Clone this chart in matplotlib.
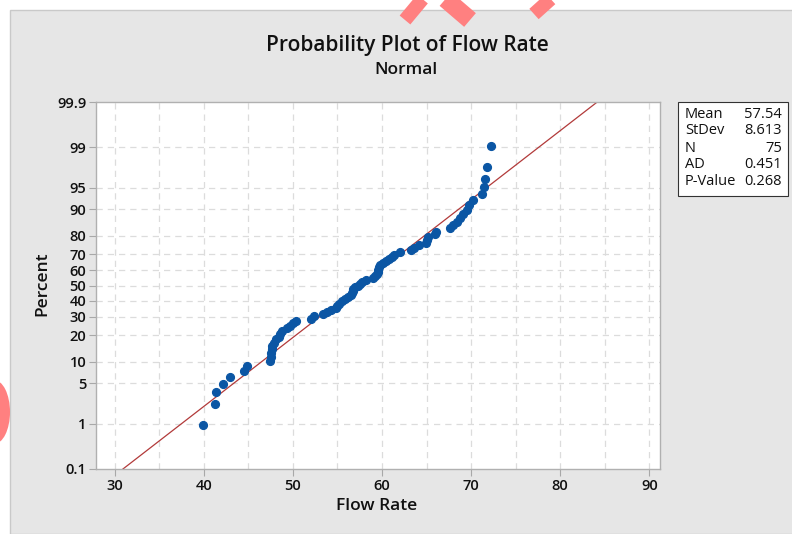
from statistics import NormalDist

import matplotlib
matplotlib.use("Agg")
import matplotlib.pyplot as plt
from matplotlib.lines import Line2D
from matplotlib.patches import Ellipse, Rectangle

FLOW_RATE = [
    39.9, 41.3, 41.4, 42.1, 42.9, 44.5, 44.8,
    47.4, 47.5, 47.5, 47.6, 47.7, 47.9, 48.1, 48.4, 48.6, 48.8, 49.3, 49.7, 50.0, 50.3,
    52.0, 52.4, 53.4, 53.8, 54.3, 54.8, 55.0, 55.2, 55.5, 55.8, 56.2, 56.5, 56.6, 56.7,
    56.8, 57.0, 57.3, 57.5, 57.8, 58.2,
    59.0, 59.2, 59.4, 59.5, 59.6, 59.7, 59.8, 60.1, 60.5, 60.8, 61.1, 61.4, 62.0,
    63.2, 63.6, 64.1, 64.9, 65.1, 65.2, 66.0, 66.1,
    67.6, 68.0, 68.4, 68.8, 69.1, 69.5, 69.8, 70.2, 71.2, 71.4, 71.6, 71.8, 72.2,
]
MEAN = 57.54
STDEV = 8.613

PERCENT_TICKS = [0.1, 1, 5, 10, 20, 30, 40, 50, 60, 70, 80, 90, 95, 99, 99.9]
PERCENT_LABELS = ["0.1", "1", "5", "10", "20", "30", "40", "50", "60", "70", "80", "90", "95", "99", "99.9"]
X_TICKS = [30, 40, 50, 60, 70, 80, 90]
X_GRID = [30, 35, 40, 45, 50, 55, 60, 65, 70, 75, 80, 85, 90]

STAT_NAMES = ["Mean", "StDev", "N", "AD", "P-Value"]
STAT_VALUES = ["57.54", "8.613", "75", "0.451", "0.268"]

W, H = 792, 534
FONT = ["Open Sans", "DejaVu Sans"]
plt.rcParams["font.family"] = FONT
TEXT = "#111111"


def fx(x):
    return x / W


def fy(y):
    return 1 - y / H


def main() -> None:
    nd = NormalDist()
    n = len(FLOW_RATE)
    z_pts = [nd.inv_cdf((i - 0.3) / (n + 0.4)) for i in range(1, n + 1)]
    z_lo, z_hi = nd.inv_cdf(0.001), nd.inv_cdf(0.999)

    fig = plt.figure(figsize=(W / 100, H / 100), dpi=100)
    fig.patch.set_facecolor("white")
    fig.patches.append(Rectangle((fx(10), 0), 1, fy(10), transform=fig.transFigure,
                                 facecolor="#E6E6E6", edgecolor="#C9C9C9", lw=1, zorder=-10))

    # pink marks over the screenshot
    for xs, ys, lw in [((405, 425), (20, -4), 10), ((442, 470), (-4, 20), 13), ((534, 554), (14, -4), 10)]:
        fig.lines.append(Line2D([fx(v) for v in xs], [fy(v) for v in ys], transform=fig.transFigure,
                                color="#FF8080", lw=lw, solid_capstyle="butt", zorder=-5))
    fig.patches.append(Ellipse((fx(-6), fy(412)), fx(32), 64 / H, transform=fig.transFigure,
                               facecolor="#FF8080", edgecolor="none", zorder=-5))

    ax = fig.add_axes([fx(96), fy(469), fx(660 - 96), (469 - 102) / H])
    ax.set_zorder(1)
    ax.set_facecolor("white")
    ax.set_xlim(27.9, 91.2)
    ax.set_ylim(z_lo, z_hi)

    for x in X_GRID:
        ax.axvline(x, color="#DCDCDC", lw=0.9, ls=(0, (5, 4)), zorder=1)
    for p in PERCENT_TICKS[1:-1]:
        ax.axhline(nd.inv_cdf(p / 100), color="#DCDCDC", lw=0.9, ls=(0, (5, 4)), zorder=1)

    ax.plot([MEAN + z_lo * STDEV, MEAN + z_hi * STDEV], [z_lo, z_hi], color="#B23A3A", lw=0.9, zorder=2)
    ax.plot(FLOW_RATE, z_pts, "o", color="#0B56A4", ms=5.6, mec="#0B56A4", zorder=3)

    ax.set_xticks(X_TICKS)
    ax.set_yticks([nd.inv_cdf(p / 100) for p in PERCENT_TICKS])
    ax.set_yticklabels(PERCENT_LABELS)
    ax.tick_params(direction="out", length=5, width=0.8, color="#A8A8A8", labelsize=10.5,
                   labelcolor=TEXT, pad=2)
    for lab in ax.get_xticklabels() + ax.get_yticklabels():
        lab.set_fontweight("semibold")
    for side in ax.spines.values():
        side.set_color("#B0B0B0")
        side.set_linewidth(1)

    fig.text(fx(407), fy(45), "Probability Plot of Flow Rate", ha="center", va="center",
             fontsize=15, fontweight="semibold", color=TEXT)
    fig.text(fx(406), fy(70), "Normal", ha="center", va="center", fontsize=12.5,
             fontweight="semibold", color=TEXT)
    fig.text(fx(377), fy(506), "Flow Rate", ha="center", va="center", fontsize=12.5,
             fontweight="semibold", color=TEXT)
    fig.text(fx(42), fy(284), "Percent", ha="center", va="center", rotation=90, fontsize=12.5,
             fontweight="semibold", color=TEXT)

    fig.patches.append(Rectangle((fx(678), fy(196)), fx(788 - 678), (196 - 102) / H,
                                 transform=fig.transFigure, facecolor="white", edgecolor="#333333",
                                 lw=0.8, zorder=2))
    for k, (name, value) in enumerate(zip(STAT_NAMES, STAT_VALUES)):
        y = fy(114 + 17 * k)
        fig.text(fx(685), y, name, ha="left", va="center", fontsize=10.5, color=TEXT, zorder=3)
        fig.text(fx(782), y, value, ha="right", va="center", fontsize=10.5, color=TEXT, zorder=3)

    fig.savefig("out.png", dpi=100)
    plt.close(fig)


if __name__ == "__main__":
    main()
